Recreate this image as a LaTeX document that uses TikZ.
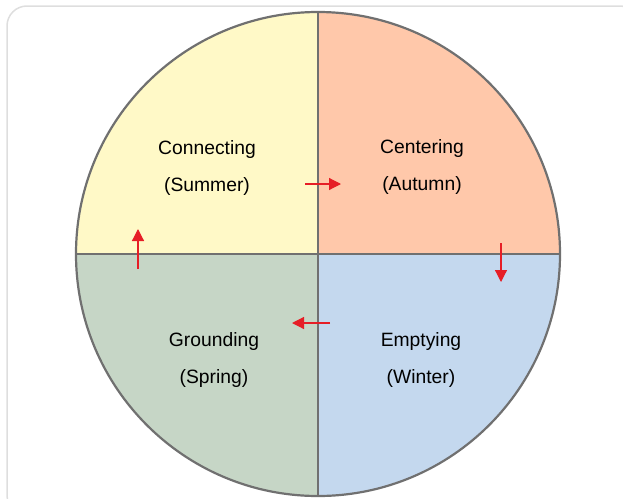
\documentclass[tikz,border=0pt]{standalone}
\usepackage{fontspec}
\setmainfont{Liberation Sans}
\usepackage{xcolor}
\definecolor{summerfill}{RGB}{255,249,199}
\definecolor{autumnfill}{RGB}{255,200,170}
\definecolor{springfill}{RGB}{198,214,198}
\definecolor{winterfill}{RGB}{196,216,238}
\definecolor{rimgray}{RGB}{112,112,112}
\definecolor{framegray}{RGB}{222,222,222}
\definecolor{flowred}{RGB}{230,30,38}
\usetikzlibrary{arrows.meta}

\tikzset{
  seasonlabel/.style={align=center, text=black,
      font=\fontsize{19.3}{37.5}\selectfont, inner sep=0pt},
  rimline/.style={draw=rimgray, line width=2.2pt},
  flowarrow/.style={-{Triangle[length=12pt, width=12pt]}, flowred, line width=1.2pt}
}

\begin{document}
\begin{tikzpicture}[x=1pt, y=-1pt]

\useasboundingbox (0,0) rectangle (623,498);
\clip (0,0) rectangle (623,498);

% === Outer card ===
\draw[framegray, line width=1.5pt, rounded corners=20pt] (7,6) rectangle (640,515);

% === Four season quarters ===
\coordinate (mid) at (318,254);
\begin{scope}
  \clip (mid) circle (242);
  \fill[summerfill] (70,5) rectangle (318,254);
  \fill[autumnfill] (318,5) rectangle (566,254);
  \fill[springfill] (70,254) rectangle (318,505);
  \fill[winterfill] (318,254) rectangle (566,505);
\end{scope}
\draw[rimline] (76,254) -- (560,254);
\draw[rimline] (318,12) -- (318,496);
\draw[rimline] (mid) circle (242);

% Labels
\node[seasonlabel] (summer) at (207,168) {Connecting\\(Summer)};
\node[seasonlabel] (autumn) at (422,167) {Centering\\(Autumn)};
\node[seasonlabel] (spring) at (214,360) {Grounding\\(Spring)};
\node[seasonlabel] (winter) at (421,360) {Emptying\\(Winter)};

% === Flow arrows ===
\coordinate (a1) at (305,184);
\coordinate (b1) at (341,184);
\coordinate (a2) at (501,243);
\coordinate (b2) at (501,282);
\coordinate (a3) at (330,323);
\coordinate (b3) at (292,323);
\coordinate (a4) at (138,269);
\coordinate (b4) at (138,229);
\draw[flowarrow] (a1) -- (b1);
\draw[flowarrow] (a2) -- (b2);
\draw[flowarrow] (a3) -- (b3);
\draw[flowarrow] (a4) -- (b4);

\end{tikzpicture}
\end{document}
